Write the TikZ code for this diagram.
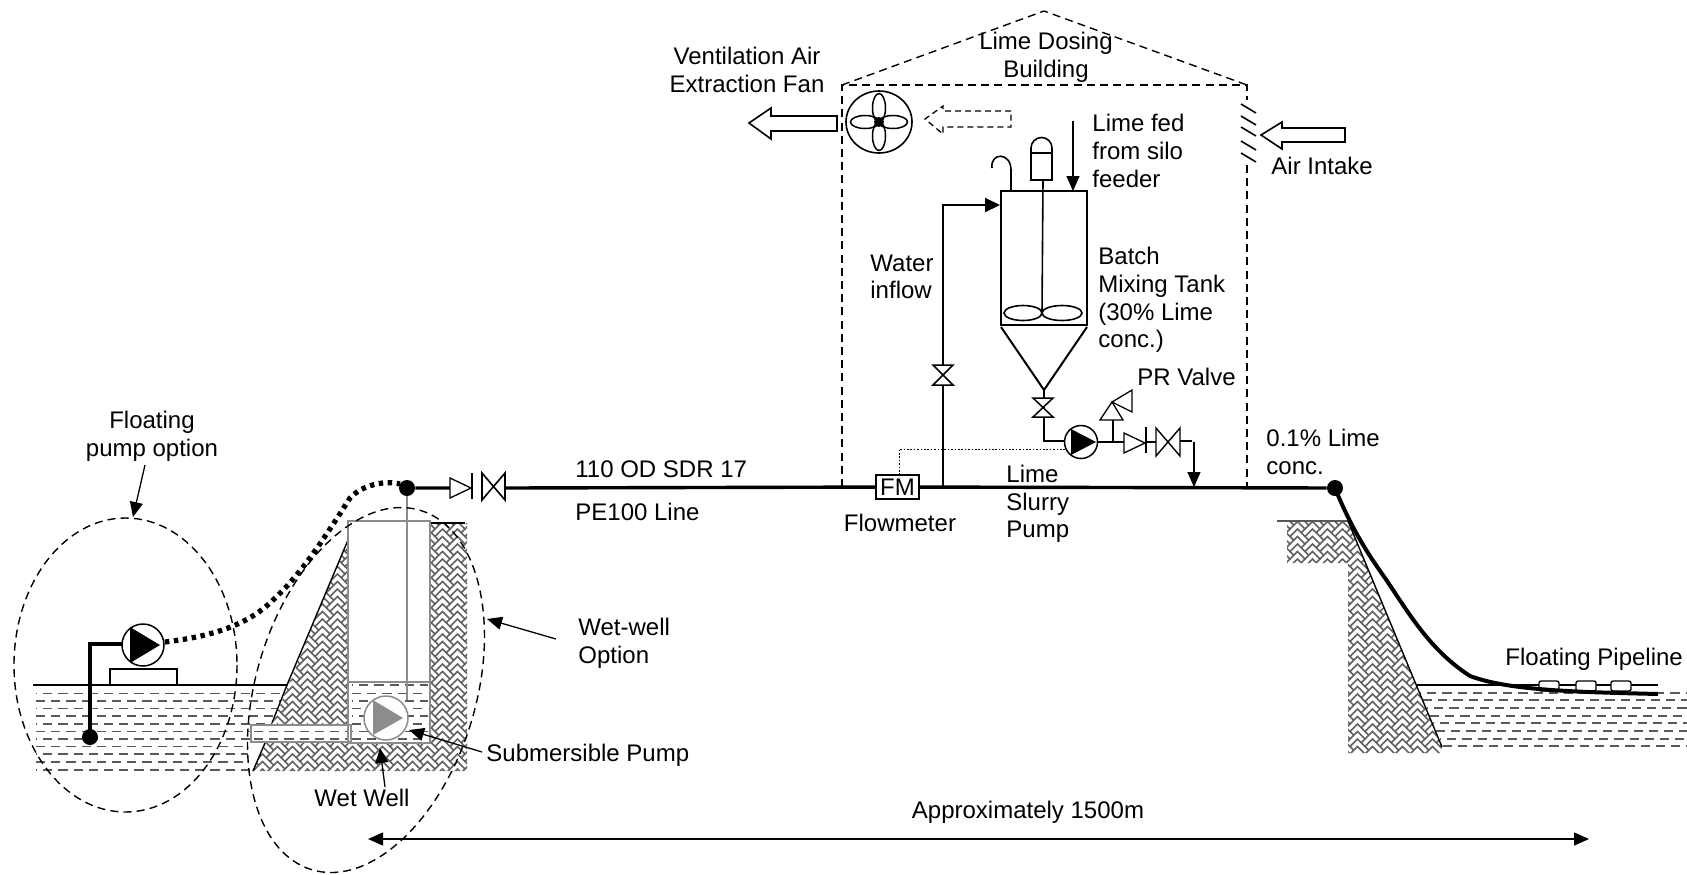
\documentclass[tikz,border=0pt]{standalone}
\usepackage{fontspec}
\setmainfont{Liberation Sans}
\usetikzlibrary{patterns,arrows.meta}
\pgfdeclarepatternformonly{hbone}{\pgfqpoint{-1pt}{-1pt}}{\pgfqpoint{8.5pt}{8.5pt}}{\pgfqpoint{7.5pt}{7.5pt}}{%
  \pgfsetlinewidth{.85pt}\pgfsetroundcap
  \pgfpathmoveto{\pgfqpoint{0pt}{0pt}}\pgfpathlineto{\pgfqpoint{3.75pt}{3.75pt}}\pgfpathlineto{\pgfqpoint{7.5pt}{0pt}}
  \pgfpathmoveto{\pgfqpoint{0pt}{3.75pt}}\pgfpathlineto{\pgfqpoint{3.75pt}{7.5pt}}\pgfpathlineto{\pgfqpoint{7.5pt}{3.75pt}}
  \pgfpathmoveto{\pgfqpoint{1.875pt}{1.875pt}}\pgfpathlineto{\pgfqpoint{0pt}{3.75pt}}
  \pgfpathmoveto{\pgfqpoint{5.625pt}{5.625pt}}\pgfpathlineto{\pgfqpoint{7.5pt}{7.5pt}}
  \pgfusepath{stroke}}
\tikzset{
 x=0.5pt,y=-0.5pt,
 txt/.style={inner sep=0pt,font=\fontsize{12}{13.8}\selectfont,align=left,text=black},
 lt/.style={txt,anchor=west},
 thin line/.style={line width=.6pt},
 pipe/.style={line width=1.7pt},
 mid/.style={line width=1pt},
 dashbox/.style={line width=.7pt,dash pattern=on 4pt off 2.6pt},
 grayline/.style={draw=black!45,line width=.9pt},
 wdash/.style={draw=black!65,line width=.8pt,dash pattern=on 4.6pt off 3pt},
 tip/.style={-{Triangle[length=7.5pt,width=6.5pt]},line width=.65pt},
 dot/.style={circle,fill=black,inner sep=0pt,minimum size=8pt},
 pumpc/.style={circle,draw,fill=white,inner sep=0pt,line width=.75pt},
 hatch/.style={pattern=hbone,pattern color=black!62},
 hfill/.style={fill=white},
 valve/.style={draw,fill=white,line width=.65pt},
}
\begin{document}
\begin{tikzpicture}
\useasboundingbox (0,0) rectangle (1687,874);
% water left
\foreach \y/\xs/\xe [count=\i] in {693.3/36/284,701/36/281,708.5/36/278,716/36/275,724/36/272,731.5/36/252,739/36/252,746.5/36/248,754/36/248,762/36/248,770/36/254}{
  \pgfmathsetmacro{\ph}{mod(\i,2)*4}
  \draw[wdash,dash phase=\ph pt] (\xs,\y) -- (\xe,\y);}
% ground left
\fill[hfill] (348,540) -- (272,725) -- (351,725) -- (351,743) -- (265,743) -- (253,771) -- (467,771) -- (467,523) -- (430,523) -- (430,521) -- (348,521) -- cycle;
\fill[hatch] (348,540) -- (272,725) -- (351,725) -- (351,743) -- (265,743) -- (253,771) -- (467,771) -- (467,523) -- (430,523) -- (430,521) -- (348,521) -- cycle;
\fill[white] (348,521) rectangle (430,743);
\fill[white] (251,725) rectangle (351,742);
\foreach \y in {731.5,739}{\draw[wdash] (254,\y) -- (349,\y);}
\foreach \y [count=\i] in {685,693.3,701,708.5,716,724,731.5,739}{
  \pgfmathsetmacro{\ph}{mod(\i,2)*4}
  \draw[wdash,dash phase=\ph pt] (352,\y) -- (428,\y);}
\draw[line width=.7pt] (348,540) -- (287,685);
\draw[line width=.7pt] (287,685) -- (272,723);
\draw[line width=.7pt] (265,743) -- (253,771);
\draw[line width=.7pt] (33,685) -- (288,685);
\draw[line width=.7pt] (430,523) -- (465,523);
\draw[grayline] (348,521) rectangle (430,743);
\draw[grayline] (348,682) -- (430,682);
\draw[grayline] (251,725) rectangle (351,742);
% wet-well riser and pump
\draw[grayline] (407,488) -- (407,700);
\node[pumpc,draw=black!45,minimum size=22pt] (gp) at (386,718) {};
\fill[black!45] (373,700) -- (403,718) -- (373,735) -- cycle;
% floating pump
\draw[pipe] (122,644) -- (90,644) -- (90,737);
\node[dot] (d1) at (90,737) {};
\draw[line width=.7pt,fill=white] (110,669) rectangle (177,685);
\draw[line width=2.6pt,dash pattern=on 2.2pt off 2.3pt] (165,642) .. controls (205,637) and (245,628) .. (273,600) .. controls (300,575) and (320,545) .. (350,498) .. controls (362,485) and (385,480) .. (400,484);
\node[pumpc,minimum size=21pt] (p1) at (143,645) {};
\fill (130,627) -- (160,645) -- (130,663) -- cycle;
% main line
\node[dot] (d2) at (407,488) {};
\node[dot] (d3) at (1335,488) {};
\node[draw,fill=white,line width=.8pt,minimum width=21.5pt,minimum height=12pt,inner sep=0pt,txt] (fm) at (897.5,487) {FM};
\draw[pipe] (d2) -- (450,488) (505,488) -- (fm) (fm) -- (d3);
% valves main
\draw[valve] (450,478) -- (471,488) -- (450,498) -- cycle;
\draw[thin line] (472,473) -- (472,499);
\draw[valve,line width=.8pt] (482,473) -- (505,500) -- (505,473) -- (482,500) -- cycle;
% ellipses
\draw[dashbox] (125.5,665) ellipse [x radius=111.5,y radius=147];
\draw[dashbox,rotate around={-16.8:(366,690)}] (366,690) ellipse [x radius=110,y radius=187.7];
% building
\draw[dashbox] (842,487) -- (842,85) -- (1247,85) -- (1247,100);
\draw[dashbox] (1247,165) -- (1247,487);
\draw[dashbox] (842,85) -- (1044,11) -- (1247,85);
% fan
\draw[line width=.8pt] (879,122) ellipse [x radius=33,y radius=31];
\foreach \a in {0,90,180,270}{
 \draw[line width=.75pt,rotate around={\a:(879,122)}] (893,122) ellipse [x radius=14.5,y radius=6.5];}
\fill (879,122) circle (5);
% dashed arrow
\draw[line width=.65pt,dash pattern=on 3pt off 2pt] (1011,111) -- (943,111) -- (943,106) -- (925,119) -- (943,134) -- (943,127) -- (1011,127) -- cycle;
% out arrow
\draw[line width=.8pt,fill=white] (837,116) -- (771,116) -- (771,108) -- (749,123) -- (771,139) -- (771,131) -- (837,131) -- cycle;
% in arrow
\draw[line width=.8pt,fill=white] (1345,128) -- (1282,128) -- (1282,122) -- (1261,135) -- (1282,149) -- (1282,142) -- (1345,142) -- cycle;
% louvres
\foreach \y in {104,116,127,141,153}{\draw[line width=.8pt] (1241,\y) -- (1256,\y+9);}
% water pipe
\draw[line width=1pt] (943,487) -- (943,205) -- (984,205);
\draw[line width=1pt,-{Triangle[length=7.5pt,width=7pt]}] (943,205) -- (1000,205);
\draw[valve,line width=.75pt] (933,365) -- (953,365) -- (933,385) -- (953,385) -- cycle;
% tank
\draw[mid] (1001,325) -- (1001,191) -- (1087,191) -- (1087,325) -- cycle;
\draw[mid] (1001,327) -- (1044,390) -- (1087,327);
\draw[line width=.8pt] (1043,180) -- (1042,313);
\draw[line width=.8pt] (1023,313) ellipse [x radius=19,y radius=7.5];
\draw[line width=.8pt] (1062,313) ellipse [x radius=20,y radius=7.5];
\draw[line width=.8pt] (1031,180) rectangle (1052,153);
\draw[line width=.8pt] (1031,153) -- (1031,148) arc (180:360:10.5) -- (1052,153);
\draw[line width=.8pt] (1011,191) -- (1011,170) .. controls (1011,152) and (990,152) .. (992,168);
\draw[tip] (1073,121) -- (1073,191);
% lime line and pump
\draw[line width=.8pt] (1044,390) -- (1044,441) -- (1065,441);
\draw[valve,line width=.75pt] (1033,398) -- (1053,398) -- (1033,417) -- (1053,417) -- cycle;
\draw[line width=.5pt,dash pattern=on .8pt off .9pt] (899,475) -- (899,449) -- (1065,449);
\node[pumpc,minimum size=16.5pt] (p2) at (1081,442) {};
\fill (1071,429) -- (1096,442) -- (1071,455) -- cycle;
\draw[line width=.8pt] (p2) -- (1124,442);
\draw[line width=.8pt] (1113,442) -- (1113,420);
\draw[valve] (1100,420) -- (1123,420) -- (1112,402) -- cycle;
\draw[valve] (1112,402) -- (1132,390) -- (1132,412) -- cycle;
\draw[valve] (1124,433) -- (1145,443) -- (1124,453) -- cycle;
\draw[thin line] (1146,427) -- (1146,453) (1146,442) -- (1156,442);
\draw[valve,line width=.7pt] (1156,428) -- (1180,456) -- (1180,428) -- (1156,456) -- cycle;
\draw[line width=.7pt] (1180,441) -- (1192,441);
\draw[tip] (1194,442) -- (1194,487);
% right ground
\fill[hfill] (1287,522) -- (1348,522) -- (1442,747) -- (1440,753) -- (1348,753) -- (1348,563) -- (1287,563) -- cycle;
\fill[hatch] (1287,522) -- (1348,522) -- (1442,747) -- (1440,753) -- (1348,753) -- (1348,563) -- (1287,563) -- cycle;
\foreach \y/\xs [count=\i] in {693/1420,700/1423,708/1427,716/1430,723/1433,731/1436,739/1440,746/1443}{
  \pgfmathsetmacro{\ph}{mod(\i,2)*4}
  \draw[wdash,dash phase=\ph pt] (\xs,\y) -- (1687,\y);}
\draw[line width=.7pt] (1277,521) -- (1348,521) -- (1442,747);
\draw[line width=.7pt] (1417,685) -- (1658,685);
\foreach \x in {1539,1576,1611}{\draw[line width=.65pt,fill=white,rounded corners=1pt] (\x,681) rectangle (\x+20,691);}
\draw[line width=2pt] (d3.center) .. controls (1350,525) and (1365,550) .. (1385,578) .. controls (1410,615) and (1430,650) .. (1470,676) .. controls (1510,691) and (1580,692) .. (1658,694);
% arrows to labels
\coordinate (a1) at (145,465); \coordinate (a2) at (133,517);
\draw[tip] (a1) -- (a2);
\coordinate (a3) at (556,639); \coordinate (a4) at (487,619);
\draw[tip] (a3) -- (a4);
\coordinate (a5) at (482,752); \coordinate (a6) at (409,730);
\draw[tip] (a5) -- (a6);
\coordinate (a7) at (385,787); \coordinate (a8) at (380,748);
\draw[tip] (a7) -- (a8);
\coordinate (a9) at (368,839); \coordinate (a10) at (1589,839);
\draw[{Triangle[length=7.5pt,width=6.5pt]}-{Triangle[length=7.5pt,width=6.5pt]},line width=.65pt] (a9) -- (a10);
% text
\node[txt,align=center] (t1) at (152,436) {Floating\\pump option};
\node[lt] (t2) at (578,643) {Wet-well\\Option};
\node[lt] (t3) at (486,755) {Submersible Pump};
\node[txt] (t4) at (362,798) {Wet Well};
\node[lt] (t5) at (575,469) {110 OD SDR 17};
\node[lt] (t6) at (575,512) {PE100 Line};
\node[txt] (t7) at (900,523) {Flowmeter};
\node[lt] (t8) at (1006,504) {Lime\\Slurry\\Pump};
\node[lt] (t9) at (1266,452) {0.1\% Lime\\conc.};
\node[txt,align=center] (t10) at (1046,57) {Lime Dosing\\Building};
\node[txt,align=center] (t11) at (747,70) {Ventilation Air\\Extraction Fan};
\node[lt] (t12) at (1271,166) {Air Intake};
\node[lt] (t13) at (1092,151) {Lime fed\\from silo\\feeder};
\node[lt] (t14) at (870,277) {Water\\inflow};
\node[lt] (t15) at (1098,300) {Batch\\Mixing Tank\\(30\% Lime\\conc.)};
\node[lt] (t16) at (1137,377) {PR Valve};
\node[lt] (t17) at (1505,659) {Floating Pipeline};
\node[txt] (t18) at (1028,812) {Approximately 1500m};
\end{tikzpicture}
\end{document}
